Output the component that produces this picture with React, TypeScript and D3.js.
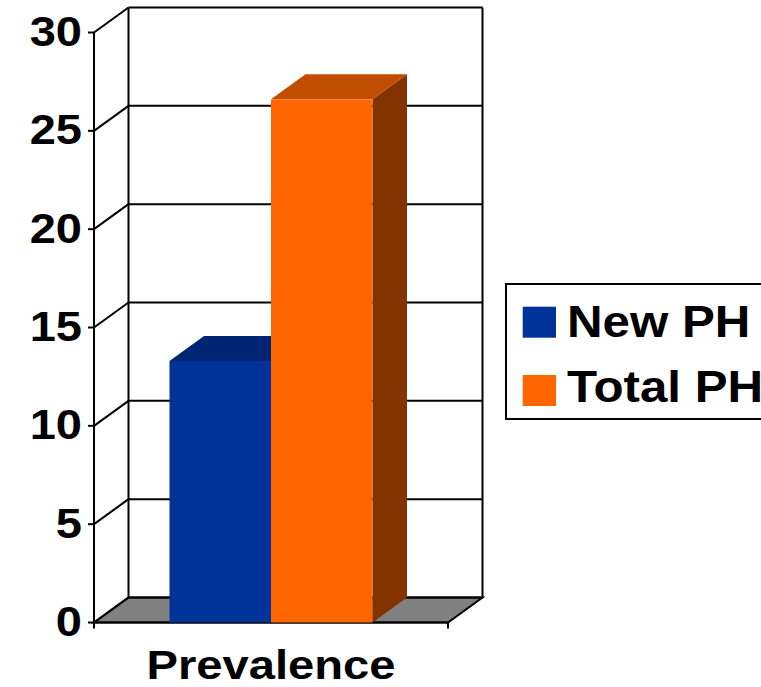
import React from "react";
import * as d3 from "d3";

// Chart data
const categories = ["Prevalence"];
const seriesNames = ["New PH", "Total PH"];
const seriesValues = [13.3, 26.6];
const yTicks = [0, 5, 10, 15, 20, 25, 30];

const frontColors = ["#003399", "#FF6600"];
const topColors = ["#002673", "#C04D00"];
const sideColors = ["#001F5C", "#833300"];

const W = 761;
const H = 687;

// 3D depth offset (back plane relative to front plane)
const DX = 34.5;
const DY = -25;

const FONT = "'Liberation Sans', Arial, Helvetica, sans-serif";

export default function App() {
  const y = d3.scaleLinear().domain([0, 30]).range([622.5, 32.5]);
  const xCat = d3
    .scaleBand<string>()
    .domain(categories)
    .range([94, 448])
    .paddingOuter(0.372)
    .paddingInner(0);
  const xSeries = d3
    .scaleBand<string>()
    .domain(seriesNames)
    .range([0, xCat.bandwidth()]);

  const x0 = 94;
  const x1 = 448;
  const y0 = y(0);

  const floorPts: [number, number][] = [
    [x0, y0],
    [x1, y0],
    [x1 + DX, y0 + DY],
    [x0 + DX, y0 + DY],
  ];
  const line = d3.line();

  return (
    <svg
      width={W}
      height={H}
      style={{ position: "absolute", left: 0, top: 0, background: "#fff" }}
      fontFamily={FONT}
      fontWeight="bold"
    >
      {/* floor */}
      <path d={line(floorPts) + "Z"} fill="#808080" stroke="#000" strokeWidth={2} />

      {/* back wall gridlines */}
      {yTicks.map((t) => (
        <line
          key={"bg" + t}
          x1={x0 + DX}
          x2={x1 + DX}
          y1={y(t) + DY}
          y2={y(t) + DY}
          stroke="#000"
          strokeWidth={2}
        />
      ))}
      {/* side wall gridlines */}
      {yTicks.map((t) => (
        <line
          key={"sg" + t}
          x1={x0}
          x2={x0 + DX}
          y1={y(t)}
          y2={y(t) + DY}
          stroke="#000"
          strokeWidth={2}
        />
      ))}
      {/* wall edges */}
      <line x1={x0 + DX} x2={x0 + DX} y1={y(30) + DY} y2={y0 + DY} stroke="#000" strokeWidth={2} />
      <line x1={x1 + DX} x2={x1 + DX} y1={y(30) + DY} y2={y0 + DY} stroke="#000" strokeWidth={2} />
      <line x1={x0} x2={x0} y1={y(30)} y2={y0 + 6} stroke="#000" strokeWidth={2} />
      <line x1={x0} x2={x1} y1={y0} y2={y0} stroke="#000" strokeWidth={2} />
      <line x1={x1} x2={x1} y1={y0} y2={y0 + 6} stroke="#000" strokeWidth={2} />

      {/* y tick marks and labels */}
      {yTicks.map((t) => (
        <g key={"yt" + t}>
          <line x1={x0 - 6} x2={x0} y1={y(t)} y2={y(t)} stroke="#000" strokeWidth={2} />
          <text
            transform={`translate(82,${y(t) + 13.5}) scale(1.12,1)`}
            textAnchor="end"
            fontSize={42}
            fill="#000"
          >
            {t}
          </text>
        </g>
      ))}

      {/* bars */}
      {categories.map((c) =>
        seriesNames.map((s, i) => {
          const bx0 = (xCat(c) as number) + (xSeries(s) as number);
          const bx1 = bx0 + xSeries.bandwidth();
          const by = y(seriesValues[i]);
          const top: [number, number][] = [
            [bx0, by],
            [bx1, by],
            [bx1 + DX, by + DY],
            [bx0 + DX, by + DY],
          ];
          const side: [number, number][] = [
            [bx1, by],
            [bx1 + DX, by + DY],
            [bx1 + DX, y0 + DY],
            [bx1, y0],
          ];
          return (
            <g key={c + s}>
              <path d={line(side) + "Z"} fill={sideColors[i]} />
              <path d={line(top) + "Z"} fill={topColors[i]} />
              <rect x={bx0} y={by} width={bx1 - bx0} height={y0 - by} fill={frontColors[i]} />
            </g>
          );
        })
      )}

      {/* category label */}
      <text
        transform={`translate(${(xCat("Prevalence") as number) + xCat.bandwidth() / 2},679) scale(1.15,1)`}
        textAnchor="middle"
        fontSize={41}
        fill="#000"
      >
        {categories[0]}
      </text>

      {/* legend */}
      <rect x={506} y={284} width={300} height={135} fill="#fff" stroke="#000" strokeWidth={2} />
      {seriesNames.map((s, i) => (
        <g key={"lg" + s}>
          <rect x={522.7} y={306.7 + i * 68.3} width={33.3} height={31} fill={frontColors[i]} />
          <text
            transform={`translate(567,${337 + i * 65}) scale(1.12,1)`}
            fontSize={44}
            fill="#000"
          >
            {s}
          </text>
        </g>
      ))}
    </svg>
  );
}
